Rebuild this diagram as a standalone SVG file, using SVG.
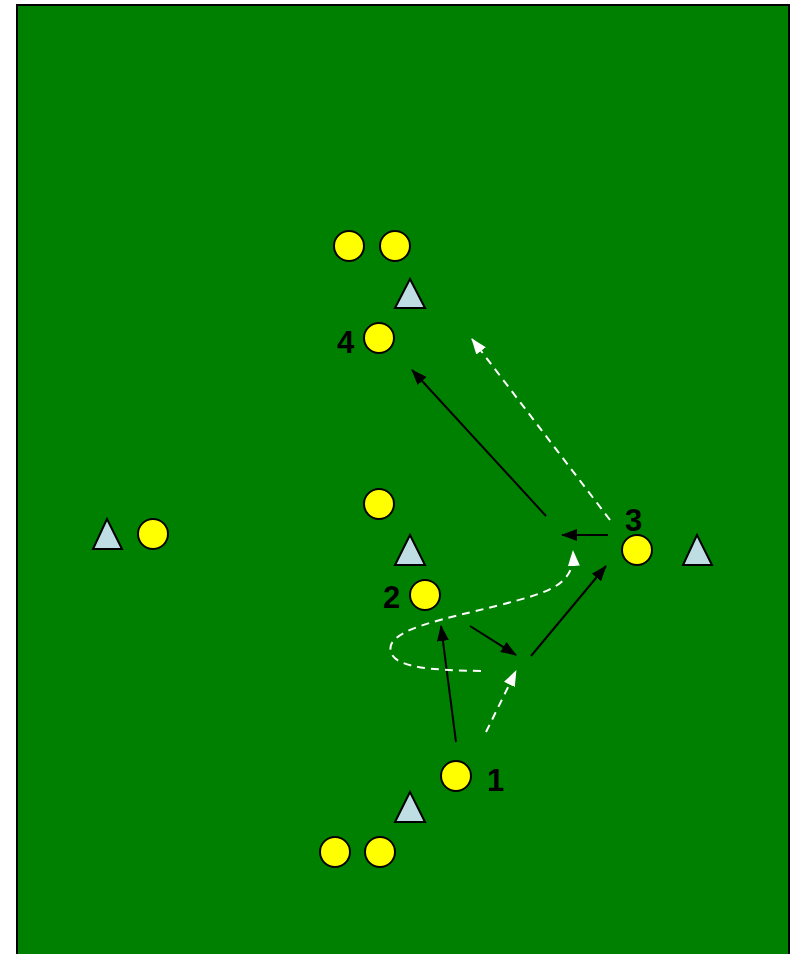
<svg xmlns="http://www.w3.org/2000/svg" width="793" height="954" viewBox="0 0 793 954">
<defs>
<style>
.p{fill:#FFFF00;stroke:#000;stroke-width:2}
.c{fill:#BEDEE3;stroke:#000;stroke-width:2;stroke-linejoin:miter}
.lbl{font-family:"Liberation Sans",Arial,sans-serif;font-weight:bold;font-size:31px;fill:#000}
.run{fill:none;stroke:#000;stroke-width:2;marker-end:url(#ab)}
.pass{fill:none;stroke:#fff;stroke-width:2;stroke-dasharray:8,6;marker-end:url(#aw)}
</style>
<marker id="ab" markerUnits="userSpaceOnUse" markerWidth="16" markerHeight="14" refX="15" refY="6" orient="auto" viewBox="0 0 16 12">
<path d="M0,0 L16,6 L0,12 z" fill="#000"/>
</marker>
<marker id="aw" markerUnits="userSpaceOnUse" markerWidth="16" markerHeight="14" refX="15" refY="6" orient="auto" viewBox="0 0 16 12">
<path d="M0,0 L16,6 L0,12 z" fill="#fff"/>
</marker>
</defs>
<rect x="0" y="0" width="793" height="954" fill="#fff"/>
<rect id="field" x="17" y="5" width="772" height="960" fill="#008000" stroke="#000" stroke-width="2"/>

<g id="connectors">
<line class="run" x1="546" y1="516" x2="412" y2="370"/>
<line class="run" x1="608" y1="535" x2="562" y2="535"/>
<line class="run" x1="470" y1="626" x2="516" y2="655"/>
<line class="run" x1="531" y1="656" x2="606" y2="566"/>
<line class="run" x1="456" y1="742" x2="441" y2="626"/>
<line class="pass" x1="610" y1="520" x2="472" y2="339"/>
<line class="pass" x1="486" y1="732" x2="516" y2="671"/>
<path class="pass" d="M481,671 C430,670 385,668 391,645 C398,628 440,620 500,605 C550,592 575,585 573,551"/>
</g>

<g id="p-top1"><circle class="p" cx="349" cy="246" r="15"/></g>
<g id="p-top2"><circle class="p" cx="395" cy="246" r="15"/></g>
<g id="cone-top"><polygon class="c" points="410,279 395,308 425,308"/></g>
<g id="p4"><circle class="p" cx="379" cy="338" r="15"/><text class="lbl" x="337" y="353">4</text></g>
<g id="p-mid"><circle class="p" cx="379" cy="504" r="15"/></g>
<g id="cone-mid"><polygon class="c" points="410,535 395,565 425,565"/></g>
<g id="p2"><circle class="p" cx="425" cy="595" r="15"/><text class="lbl" x="383" y="608">2</text></g>
<g id="cone-left"><polygon class="c" points="107,519 93,549 122,549"/></g>
<g id="p-left"><circle class="p" cx="153" cy="534" r="15"/></g>
<g id="p3"><circle class="p" cx="637" cy="550" r="15"/><text class="lbl" x="625" y="531">3</text></g>
<g id="cone-right"><polygon class="c" points="697,535 683,565 712,565"/></g>
<g id="p1"><circle class="p" cx="456" cy="776" r="15"/><text class="lbl" x="487" y="791">1</text></g>
<g id="cone-bottom"><polygon class="c" points="410,792 395,822 425,822"/></g>
<g id="p-bot1"><circle class="p" cx="335" cy="852" r="15"/></g>
<g id="p-bot2"><circle class="p" cx="380" cy="852" r="15"/></g>
</svg>
